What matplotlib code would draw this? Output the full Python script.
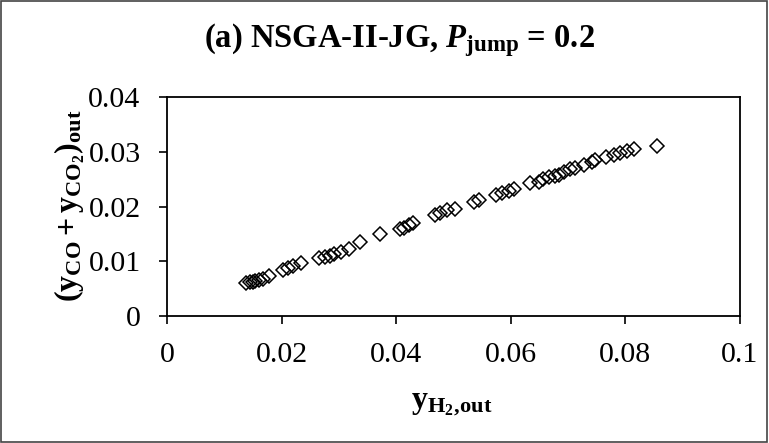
import matplotlib
matplotlib.use("Agg")
import matplotlib.pyplot as plt
from matplotlib.patches import Rectangle

plt.rcParams['font.family'] = ['Liberation Serif', 'DejaVu Serif']
plt.rcParams['mathtext.fontset'] = 'custom'
plt.rcParams['mathtext.rm'] = 'Liberation Serif:bold'
plt.rcParams['mathtext.it'] = 'Liberation Serif:italic:bold'
plt.rcParams['mathtext.bf'] = 'Liberation Serif:bold'

# Pareto front: H2 mole fraction vs CO + CO2 mole fraction at outlet
y_h2 = [0.0138, 0.0145, 0.0150, 0.0154, 0.0160, 0.0168, 0.0178, 0.0203, 0.0212,
        0.0220, 0.0234, 0.0266, 0.0275, 0.0284, 0.0292, 0.0304, 0.0318, 0.0336,
        0.0372, 0.0406, 0.0414, 0.0423, 0.0430, 0.0467, 0.0476, 0.0488, 0.0502,
        0.0535, 0.0545, 0.0575, 0.0584, 0.0596, 0.0605, 0.0633, 0.0649, 0.0657,
        0.0666, 0.0677, 0.0684, 0.0692, 0.0703, 0.0712, 0.0727, 0.0741, 0.0747,
        0.0767, 0.0780, 0.0790, 0.0802, 0.0815, 0.0855]
y_co = [0.0060, 0.0062, 0.0062, 0.0064, 0.0066, 0.0068, 0.0073, 0.0084, 0.0088,
        0.0091, 0.0097, 0.0106, 0.0108, 0.0110, 0.0113, 0.0117, 0.0122, 0.0135,
        0.0150, 0.0159, 0.0161, 0.0166, 0.0170, 0.0184, 0.0188, 0.0194, 0.0195,
        0.0208, 0.0212, 0.0221, 0.0225, 0.0228, 0.0232, 0.0243, 0.0245, 0.0250,
        0.0254, 0.0256, 0.0258, 0.0263, 0.0268, 0.0270, 0.0276, 0.0281, 0.0285,
        0.0290, 0.0294, 0.0298, 0.0301, 0.0305, 0.0311]

x_ticks = [0, 0.02, 0.04, 0.06, 0.08, 0.1]
x_ticklabels = ['0', '0.02', '0.04', '0.06', '0.08', '0.1']
y_ticks = [0, 0.01, 0.02, 0.03, 0.04]
y_ticklabels = ['0', '0.01', '0.02', '0.03', '0.04']

fig = plt.figure(figsize=(7.69, 4.43), dpi=100)
ax = fig.add_axes([167/769, 1 - 316/443, (740 - 167)/769, (316 - 97)/443])

ax.plot(y_h2, y_co, linestyle='none', marker='D', markersize=7.6,
        markerfacecolor='none', markeredgecolor='black', markeredgewidth=1.1)

ax.set_xlim(0, 0.1)
ax.set_ylim(0, 0.04)
ax.set_xticks(x_ticks)
ax.set_xticklabels(x_ticklabels)
ax.set_yticks(y_ticks)
ax.set_yticklabels(y_ticklabels)
ax.tick_params(direction='out', length=6, width=1.2, labelsize=21.5, pad=13)
for s in ax.spines.values():
    s.set_linewidth(1.3)

fig.text(399/769, 1 - 47/443, r"(a) NSGA-II-JG, $P_{\mathrm{jump}}$ = 0.2",
         ha='center', va='baseline', fontsize=23.5, fontweight='bold')
fig.text(452/769, 1 - 403/443, r"$\mathrm{y_{H_2,\!out}}$",
         ha='center', va='center', fontsize=23)
fig.text(70/769, 1 - 206/443, r"$\mathrm{(y_{CO} + y_{CO_2})_{out}}$",
         ha='center', va='center', fontsize=23, rotation=90)

fig.patches.append(Rectangle((0.001, 0.002), 0.997, 0.995, transform=fig.transFigure,
                             fill=False, edgecolor='#444444', linewidth=1.2))

fig.savefig("out.png", dpi=100)
